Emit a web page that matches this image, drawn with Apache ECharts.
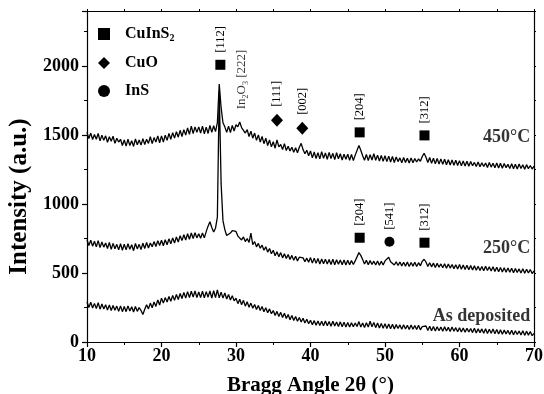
<!DOCTYPE html>
<html>
<head>
<meta charset="utf-8">
<script src="https://cdn.jsdelivr.net/npm/echarts@6/dist/echarts.min.js"></script>
<style>html,body{margin:0;padding:0;background:#fff}#c{width:544px;height:394px}</style>
</head>
<body>
<div id="c"></div>
<script>
// 2θ grid of the scans
const angleStart = 10;
const angleStep = 0.25;

// Intensity (a.u.), one value per 0.25° from 10° to 70°
const scan450 = [
  1520,1475,1515,1468,1505,1470,1512,1458,1500,1462,1495,1448,1488,1455,1492,1440,1478,1450,1470,1425,
  1465,1420,1470,1425,1460,1418,1472,1430,1465,1428,1475,1432,1470,1440,1488,1438,1482,1450,1495,1445,
  1495,1450,1500,1462,1512,1470,1518,1478,1525,1485,1535,1490,1540,1500,1552,1505,1565,1512,1560,1520,
  1560,1515,1565,1510,1558,1512,1570,1520,1568,1525,1590,1870,1700,1590,1560,1520,1565,1518,1570,1530,
  1575,1560,1595,1555,1565,1515,1540,1490,1528,1478,1515,1462,1502,1450,1490,1438,1478,1425,1465,1415,
  1452,1405,1465,1415,1432,1395,1438,1388,1420,1385,1412,1375,1408,1372,1412,1440,1395,1365,1390,1350,
  1385,1335,1378,1330,1372,1328,1380,1332,1370,1325,1375,1330,1368,1322,1372,1328,1365,1320,1362,1325,
  1362,1318,1360,1315,1355,1345,1425,1390,1350,1318,1360,1315,1358,1320,1365,1318,1355,1312,1352,1310,
  1350,1308,1348,1305,1345,1302,1342,1308,1335,1300,1338,1302,1332,1298,1335,1300,1330,1305,1328,1310,
  1345,1368,1340,1302,1338,1295,1332,1292,1330,1290,1328,1288,1325,1285,1322,1284,1320,1282,1318,1280,
  1315,1278,1312,1276,1310,1274,1308,1278,1302,1272,1305,1270,1300,1272,1298,1266,1302,1268,1296,1264,
  1298,1262,1296,1260,1294,1264,1288,1258,1292,1256,1288,1254,1290,1258,1285,1252,1286,1256,1280,1254,
  1275
];
const scan250 = [
  742,700,738,695,730,690,735,684,725,688,718,678,722,672,715,676,708,668,712,665,
  710,668,712,672,705,662,714,675,708,670,716,678,722,682,718,690,728,692,735,700,
  738,698,742,705,748,712,755,718,762,725,770,735,778,740,785,745,790,750,792,755,
  785,752,790,755,800,840,872,830,798,825,905,1820,1150,880,815,772,782,790,808,820,
  802,768,780,740,762,728,750,722,790,705,728,690,715,680,702,665,690,652,678,640,
  665,625,655,618,648,610,640,605,635,598,628,592,622,588,615,628,610,582,608,578,
  612,572,608,570,605,566,602,568,600,565,598,562,600,560,596,564,594,560,595,558,
  592,560,590,562,588,596,648,628,598,565,592,560,590,562,586,558,588,556,585,558,
  588,592,615,582,580,558,582,555,580,552,578,550,580,548,576,550,578,548,575,552,
  585,600,580,548,575,545,572,540,570,542,566,538,568,535,565,536,562,532,560,530,
  562,528,558,526,556,524,555,522,552,520,550,518,548,516,550,518,545,514,546,512,
  542,510,540,508,538,506,536,505,535,502,532,504,530,500,532,498,528,500,526,496,
  515
];
const scanAsDep = [
  292,250,288,246,280,242,285,238,275,240,270,232,268,228,265,230,260,222,262,220,
  258,220,262,225,255,218,258,222,250,228,200,238,270,240,282,248,290,258,305,268,
  318,282,322,290,330,296,338,302,345,308,352,315,360,318,365,322,368,325,370,322,
  362,322,368,320,365,325,370,318,372,322,378,320,362,318,355,312,345,305,335,298,
  318,278,310,270,302,260,292,252,282,245,272,235,265,228,258,220,248,212,240,205,
  228,192,222,185,215,178,208,170,200,162,192,156,185,150,178,145,172,138,165,132,
  158,125,155,122,152,120,150,118,152,118,148,114,150,116,145,112,146,110,144,108,
  142,108,140,110,138,112,148,108,138,105,140,108,150,110,142,104,138,102,135,100,
  132,98,130,96,128,94,126,98,124,92,125,94,122,90,124,92,120,90,122,88,
  112,104,116,84,114,82,112,80,110,82,108,78,110,80,106,76,108,78,104,74,
  104,72,102,70,100,72,98,68,100,66,96,68,95,64,96,62,92,64,94,60,
  90,58,88,56,86,58,84,54,86,52,82,54,80,50,82,48,78,50,76,46,
  62
];

// Phase markers: angle, height, Miller index
const cuInS2Angles  = [27.9, 46.6, 55.3, 46.6, 55.3];
const cuInS2Heights = [2010, 1520, 1498, 756, 720];
const cuInS2Labels  = ['[112]', '[204]', '[312]', '[204]', '[312]'];
const cuOAngles  = [35.5, 38.9];
const cuOHeights = [1607, 1549];
const cuOLabels  = ['[111]', '[002]'];
const inSAngles  = [50.6];
const inSHeights = [727];
const inSLabels  = ['[541]'];

// Text annotations
const in2o3Angle = 30.8, in2o3Height = 1687, in2o3Text = 'In{sub|2}O{sub|3} [222]';
const curveNames   = ['450°C', '250°C', 'As deposited'];
const curveAngles  = [69.5, 69.5, 69.5];
const curveHeights = [1483, 676, 189];

// Axes
const xMin = 10, xMax = 70, xStep = 10;
const yMin = 0, yMax = 2400, yStep = 500;

const toPairs = arr => arr.map((v, i) => [angleStart + i * angleStep, v]);
const markerData = (xs, ys, ls) => xs.map((x, i) => ({ value: [x, ys[i]], name: ls[i] }));

const serif = '"Liberation Serif", "Times New Roman", serif';
const lineSeries = (name, data) => ({
  name, type: 'line', data: toPairs(data), showSymbol: false, symbol: 'none',
  lineStyle: { color: '#000', width: 1.3 }, silent: true, z: 2, animation: false
});
const peakLabel = {
  show: true, formatter: '{b}', position: 'top', distance: 7, rotate: 90,
  align: 'left', verticalAlign: 'middle',
  fontFamily: serif, fontSize: 12.5, color: '#000'
};
const markerSeries = (name, symbol, size, data) => ({
  name, type: 'scatter', symbol, symbolSize: size, data,
  itemStyle: { color: '#000', opacity: 1 }, label: peakLabel, silent: true, z: 5, animation: false
});

const chart = echarts.init(document.getElementById('c'), null, { renderer: 'canvas' });
chart.setOption({
  animation: false,
  backgroundColor: '#fff',
  grid: { left: 87, right: 10, top: 11, bottom: 52, containLabel: false, outerBoundsMode: 'none' },
  legend: {
    data: ['CuInS2', 'CuO', 'InS'],
    orient: 'vertical', left: 93, top: 21,
    itemWidth: 12, itemHeight: 12, itemGap: 12,
    itemStyle: { opacity: 1 },
    formatter: n => n === 'CuInS2' ? 'CuInS{sub|2}' : n,
    textStyle: {
      fontFamily: serif, fontWeight: 'bold', fontSize: 16, color: '#000', padding: [0, 0, 0, 10],
      rich: { sub: { fontFamily: serif, fontWeight: 'bold', fontSize: 10, verticalAlign: 'bottom', padding: [8, 0, 0, 0] } }
    },
    selectedMode: false
  },
  xAxis: [{
    type: 'value', min: xMin, max: xMax, interval: xStep, position: 'bottom',
    axisLine: { onZero: false, lineStyle: { color: '#000', width: 1.2 } },
    axisTick: { length: 5, lineStyle: { color: '#000', width: 1.2 } },
    minorTick: { show: true, splitNumber: 2, length: 3, lineStyle: { color: '#000' } },
    splitLine: { show: false },
    axisLabel: { fontFamily: serif, fontWeight: 'bold', fontSize: 18, color: '#000', margin: 5 },
    name: 'Bragg Angle 2θ (°)', nameLocation: 'middle', nameGap: 33,
    nameTextStyle: { fontFamily: serif, fontWeight: 'bold', fontSize: 21, color: '#000' }
  }, {
    type: 'value', min: xMin, max: xMax, interval: xStep / 2, position: 'top',
    axisLine: { onZero: false, lineStyle: { color: '#000', width: 1.2 } },
    axisTick: { length: 2, lineStyle: { color: '#000' } },
    axisLabel: { show: false }, splitLine: { show: false }
  }],
  yAxis: [{
    type: 'value', min: yMin, max: yMax, interval: yStep, position: 'left',
    axisLine: { show: true, onZero: false, lineStyle: { color: '#000', width: 1.2 } },
    axisTick: { show: true, length: 5, lineStyle: { color: '#000', width: 1.2 } },
    minorTick: { show: true, splitNumber: 2, length: 3, lineStyle: { color: '#000' } },
    splitLine: { show: false },
    axisLabel: {
      fontFamily: serif, fontWeight: 'bold', fontSize: 18, color: '#000', margin: 8,
      formatter: v => (v % yStep === 0 ? String(v) : '')
    },
    name: 'Intensity (a.u.)', nameLocation: 'middle', nameGap: 53,
    nameTextStyle: { fontFamily: serif, fontWeight: 'bold', fontSize: 25, color: '#000', padding: [0, 40, 0, 0] }
  }, {
    type: 'value', min: yMin, max: yMax, interval: yStep / 2, position: 'right',
    axisLine: { show: true, onZero: false, lineStyle: { color: '#000', width: 1.2 } },
    axisTick: { show: true, length: 2, lineStyle: { color: '#000' } },
    axisLabel: { show: false }, splitLine: { show: false }
  }],
  series: [
    lineSeries('450', scan450),
    lineSeries('250', scan250),
    lineSeries('asdep', scanAsDep),
    markerSeries('CuInS2', 'rect', 10, markerData(cuInS2Angles, cuInS2Heights, cuInS2Labels)),
    markerSeries('CuO', 'diamond', [12, 13], markerData(cuOAngles, cuOHeights, cuOLabels)),
    markerSeries('InS', 'circle', 10, markerData(inSAngles, inSHeights, inSLabels)),
    {
      name: 'in2o3', type: 'scatter', symbolSize: 0, silent: true, z: 5,
      data: [{ value: [in2o3Angle, in2o3Height], name: in2o3Text }],
      label: {
        show: true, formatter: '{b}', position: 'top', distance: 0, rotate: 90,
        align: 'left', verticalAlign: 'middle',
        fontFamily: serif, fontSize: 13, color: '#000',
        rich: { sub: { fontFamily: serif, fontSize: 8, verticalAlign: 'bottom', padding: [7, 0, 0, 0] } }
      }
    },
    {
      name: 'curves', type: 'scatter', symbolSize: 0, silent: true, z: 5,
      data: curveNames.map((n, i) => ({ value: [curveAngles[i], curveHeights[i]], name: n })),
      label: {
        show: true, formatter: '{b}', position: 'inside', align: 'right', verticalAlign: 'middle',
        fontFamily: serif, fontWeight: 'bold', fontSize: 18, color: '#000'
      }
    }
  ]
});
</script>
</body>
</html>
